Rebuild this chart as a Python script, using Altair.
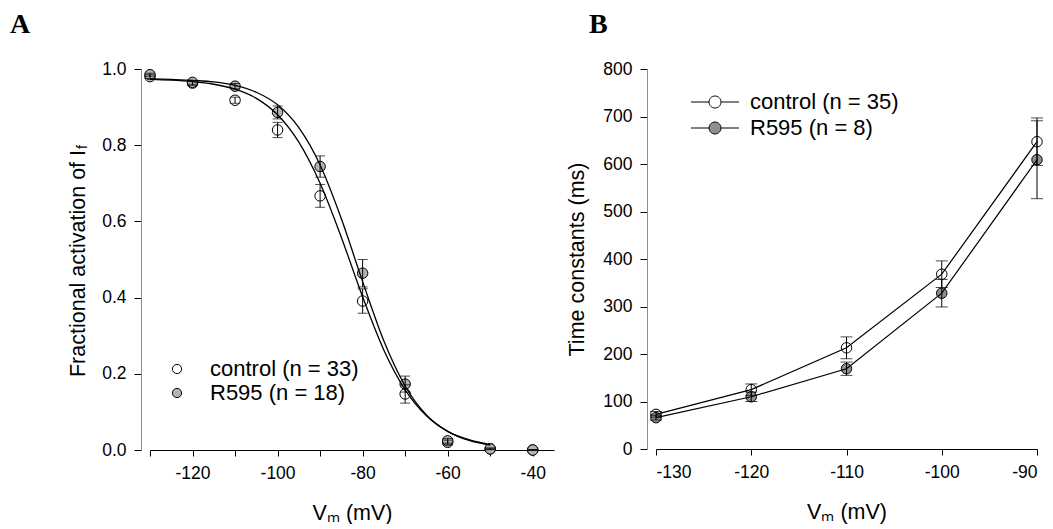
import altair as alt
import pandas as pd

# ---------------- Panel A: activation curves ----------------
volt_a = [-130, -120, -110, -100, -90, -80, -70, -60, -50, -40]
ctrl_a = [0.980, 0.963, 0.918, 0.840, 0.667, 0.391, 0.147, 0.020, 0.003, 0.000]
ctrl_a_err = [0.005, 0.006, 0.008, 0.020, 0.030, 0.032, 0.024, 0.006, 0.002, 0.001]
r595_a = [0.985, 0.965, 0.955, 0.886, 0.744, 0.464, 0.173, 0.024, 0.003, 0.000]
r595_a_err = [0.004, 0.005, 0.007, 0.017, 0.028, 0.036, 0.021, 0.006, 0.002, 0.001]

# fitted curves, every 5 mV
fit_v = [-130, -125, -120, -115, -110, -105, -100, -95, -90, -85, -80, -75, -70, -65, -60, -55, -50]
fit_ctrl = [0.973, 0.971, 0.967, 0.960, 0.947, 0.923, 0.880, 0.808, 0.700, 0.558, 0.402, 0.262, 0.158, 0.090, 0.049, 0.027, 0.014]
fit_r595 = [0.974, 0.973, 0.970, 0.966, 0.957, 0.939, 0.906, 0.846, 0.748, 0.607, 0.442, 0.286, 0.168, 0.092, 0.049, 0.025, 0.013]

labels_a = ["control (n = 33)", "R595 (n = 18)"]

# ---------------- Panel B: time constants ----------------
volt_b = [-130, -120, -110, -100, -90]
ctrl_b = [73, 125, 213, 368, 647]
ctrl_b_err = [6, 12, 23, 28, 50]
r595_b = [66, 110, 169, 328, 609]
r595_b_err = [5, 10, 14, 29, 82]

labels_b = ["control (n = 35)", "R595 (n = 8)"]

FONT = "Liberation Sans"
TICK_FS = 17.5
TITLE_FS = 21.5
LEG_FS = 22

def points_frame(v, c, ce, r, re, labels):
    rows = []
    for x, y, e in zip(v, c, ce):
        rows.append({"v": x, "val": y, "lo": y - e, "hi": y + e, "s": labels[0]})
    for x, y, e in zip(v, r, re):
        rows.append({"v": x, "val": y, "lo": y - e, "hi": y + e, "s": labels[1]})
    return pd.DataFrame(rows)

df_a = points_frame(volt_a, ctrl_a, ctrl_a_err, r595_a, r595_a_err, labels_a)
df_fit = pd.DataFrame(
    [{"v": x, "val": y, "s": "c"} for x, y in zip(fit_v, fit_ctrl)]
    + [{"v": x, "val": y, "s": "r"} for x, y in zip(fit_v, fit_r595)]
)
df_b = points_frame(volt_b, ctrl_b, ctrl_b_err, r595_b, r595_b_err, labels_b)

# ---------- Panel A ----------
xa = alt.X(
    "v:Q",
    scale=alt.Scale(domain=[-130, -35], nice=False, zero=False),
    axis=alt.Axis(
        values=list(range(-130, -35, 10)),
        labelExpr="datum.value % 20 == 0 ? toString(datum.value) : ''",
        title="Vₘ (mV)",
        grid=False, domainColor="black", tickColor="black", tickSize=6,
        labelPadding=8, labelFont=FONT, labelFontSize=TICK_FS, labelColor="black",
        titleFont=FONT, titleFontSize=TITLE_FS, titleFontWeight="normal", titleColor="black",
        titlePadding=21,
    ),
)
ya = alt.Y(
    "val:Q",
    scale=alt.Scale(domain=[0, 1], nice=False, zero=False),
    axis=alt.Axis(
        values=[round(i * 0.1, 1) for i in range(11)],
        labelExpr="round(datum.value * 10) % 2 == 0 ? format(datum.value, '.1f') : ''",
        title="Fractional activation of I",
        titleY=194,
        offset=9, grid=False, domainColor="#8c8c8c", tickColor="black",
        tickSize={"condition": {"test": "round(datum.value * 10) % 2 == 0", "value": 7}, "value": 4},
        labelPadding=8, labelFont=FONT, labelFontSize=TICK_FS, labelColor="black",
        titleFont=FONT, titleFontSize=TITLE_FS, titleFontWeight="normal", titleColor="black",
        titlePadding=12,
    ),
)

base_a = alt.Chart(df_a)
err_a = base_a.mark_rule(color="black", strokeWidth=1).encode(x="v:Q", y="lo:Q", y2="hi:Q")
cap_lo_a = base_a.mark_tick(color="black", orient="horizontal", size=10, thickness=1).encode(x="v:Q", y="lo:Q")
cap_hi_a = base_a.mark_tick(color="black", orient="horizontal", size=10, thickness=1).encode(x="v:Q", y="hi:Q")
curves_a = alt.Chart(df_fit).mark_line(color="black", strokeWidth=1.3, interpolate="monotone").encode(
    x="v:Q", y="val:Q", detail="s:N"
)
pts_a = base_a.mark_circle(size=110, stroke="black", strokeWidth=1, opacity=1).encode(
    x=xa,
    y=ya,
    fill=alt.Fill(
        "s:N",
        scale=alt.Scale(domain=labels_a, range=["white", "#b3b3b3"]),
        legend=alt.Legend(
            title=None, orient="none", legendX=16, legendY=289,
            symbolType="circle", symbolSize=85, symbolStrokeColor="black", symbolStrokeWidth=1,
            symbolOpacity=1, labelFont=FONT, labelFontSize=LEG_FS, labelColor="black",
            labelOffset=22, rowPadding=2, padding=0,
        ),
    ),
)
sub_f = alt.Chart(pd.DataFrame({"t": ["f"]})).mark_text(
    text="f", angle=270, font=FONT, fontSize=14, align="left", baseline="middle", color="black"
).encode(x=alt.value(-67), y=alt.value(80))

panel_a = alt.layer(pts_a, err_a, cap_lo_a, cap_hi_a, curves_a, sub_f).properties(
    width=404, height=381,
    title=alt.TitleParams("A", anchor="start", frame="group", dx=-140, offset=21,
                          font="Liberation Serif", fontSize=28, fontWeight="bold", color="black"),
)

# ---------- Panel B ----------
xb = alt.X(
    "v:Q",
    scale=alt.Scale(domain=[-130, -90], nice=False, zero=False),
    axis=alt.Axis(
        values=volt_b,
        labelExpr="toString(datum.value)",
        title="Vₘ (mV)",
        grid=False, domainColor="black", tickColor="black", tickSize=6,
        labelPadding=8, labelFont=FONT, labelFontSize=TICK_FS, labelColor="black",
        titleFont=FONT, titleFontSize=TITLE_FS, titleFontWeight="normal", titleColor="black",
        titlePadding=21,
    ),
)
yb = alt.Y(
    "val:Q",
    scale=alt.Scale(domain=[0, 800], nice=False, zero=False),
    axis=alt.Axis(
        values=list(range(0, 801, 100)),
        title="Time constants (ms)",
        offset=9, grid=False, domainColor="#8c8c8c", tickColor="black", tickSize=7,
        labelPadding=8, labelFont=FONT, labelFontSize=TICK_FS, labelColor="black",
        titleFont=FONT, titleFontSize=TITLE_FS, titleFontWeight="normal", titleColor="black",
        titlePadding=14,
    ),
)

base_b = alt.Chart(df_b)
err_b = base_b.mark_rule(color="black", strokeWidth=1).encode(x="v:Q", y="lo:Q", y2="hi:Q")
cap_lo_b = base_b.mark_tick(color="black", orient="horizontal", size=12, thickness=1).encode(x="v:Q", y="lo:Q")
cap_hi_b = base_b.mark_tick(color="black", orient="horizontal", size=12, thickness=1).encode(x="v:Q", y="hi:Q")
lines_b = base_b.mark_line(color="black", strokeWidth=1.2).encode(x="v:Q", y="val:Q", detail="s:N")
legend_symbol = "M-4,0L-1,0M1,0L4,0M-1,0A1,1,0,1,1,1,0A1,1,0,1,1,-1,0Z"
pts_b = base_b.mark_circle(size=110, stroke="black", strokeWidth=1, opacity=1).encode(
    x=xb,
    y=yb,
    fill=alt.Fill(
        "s:N",
        scale=alt.Scale(domain=labels_b, range=["white", "#8f8f8f"]),
        legend=alt.Legend(
            title=None, orient="none", legendX=48, legendY=22,
            symbolType=legend_symbol, symbolSize=144, symbolStrokeColor="black", symbolStrokeWidth=1,
            symbolOpacity=1, labelFont=FONT, labelFontSize=LEG_FS, labelColor="black",
            labelOffset=24, rowPadding=4, padding=0,
        ),
    ),
)

panel_b = alt.layer(pts_b, err_b, cap_lo_b, cap_hi_b, lines_b).properties(
    width=381, height=380,
    title=alt.TitleParams("B", anchor="start", frame="group", dx=-67, offset=21,
                          font="Liberation Serif", fontSize=28, fontWeight="bold", color="black"),
)

chart = (
    alt.hconcat(panel_a, panel_b, spacing=12)
    .resolve_scale(fill="independent", x="independent", y="independent")
    .resolve_legend(fill="independent")
    .properties(padding={"left": 2, "top": 3, "right": 0, "bottom": 0})
    .configure_view(stroke=None)
)

chart.save("out.html", embed_options={"renderer": "svg", "actions": False})
